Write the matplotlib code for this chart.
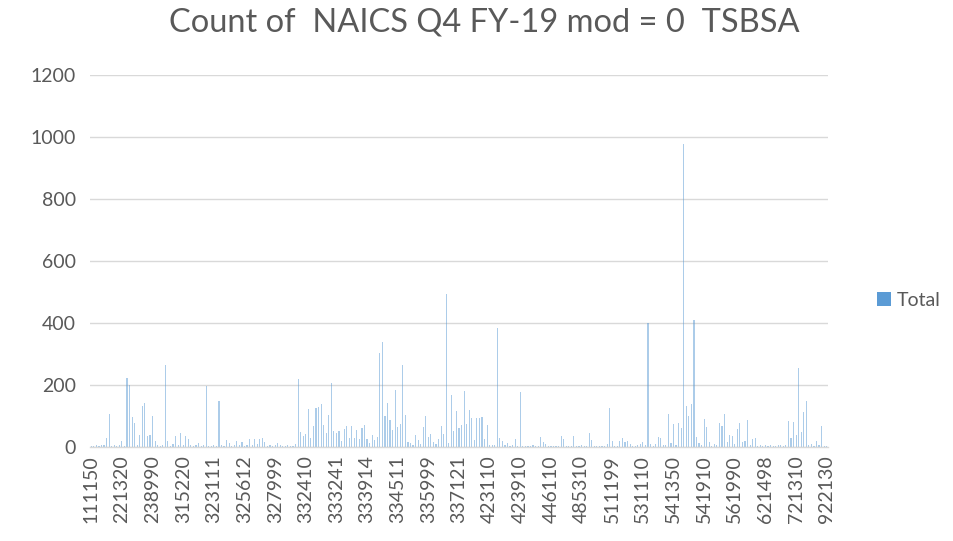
import matplotlib
matplotlib.use("Agg")
import matplotlib.pyplot as plt
from matplotlib.patches import Patch

title = "Count of  NAICS Q4 FY-19 mod = 0  TSBSA"
series_name = "Total"

tick_labels = ["111150", "221320", "238990", "315220", "323111", "325612", "327999",
               "332410", "333241", "333914", "334511", "335999", "337121", "423110",
               "423910", "446110", "485310", "511199", "531110", "541350", "541910",
               "561990", "621498", "721310", "922130"]

values = [
    3, 2, 5, 2, 8, 5, 28, 106, 4, 8,
    3, 6, 19, 4, 224, 200, 96, 76, 6, 39,
    132, 143, 35, 39, 100, 20, 5, 3, 6, 265,
    19, 4, 10, 35, 6, 44, 5, 35, 25, 8,
    4, 6, 12, 3, 5, 198, 4, 2, 5, 3,
    150, 6, 3, 22, 12, 4, 7, 19, 5, 15,
    4, 8, 25, 6, 25, 9, 26, 28, 15, 4,
    6, 3, 5, 14, 8, 4, 3, 6, 2, 4,
    10, 218, 47, 35, 41, 122, 30, 68, 127, 128,
    139, 71, 44, 103, 207, 53, 44, 52, 20, 57,
    68, 28, 68, 28, 55, 25, 60, 71, 26, 14,
    38, 22, 31, 302, 340, 100, 143, 87, 55, 184,
    63, 74, 265, 103, 15, 12, 8, 39, 22, 10,
    63, 100, 33, 41, 17, 9, 25, 69, 41, 495,
    14, 168, 53, 116, 60, 71, 181, 74, 119, 92,
    22, 92, 92, 96, 25, 71, 8, 5, 6, 385,
    28, 20, 8, 12, 4, 6, 25, 3, 178, 4,
    2, 3, 4, 5, 2, 3, 31, 17, 10, 2,
    3, 2, 4, 3, 35, 25, 2, 3, 4, 37,
    3, 2, 6, 3, 2, 44, 22, 3, 2, 4,
    3, 2, 10, 127, 19, 4, 3, 19, 30, 17,
    19, 10, 4, 3, 5, 10, 17, 6, 400, 10,
    4, 10, 31, 28, 5, 8, 105, 12, 74, 6,
    76, 60, 978, 132, 100, 139, 410, 31, 12, 5,
    89, 66, 17, 4, 10, 5, 78, 68, 106, 17,
    39, 36, 10, 57, 76, 17, 20, 87, 6, 25,
    28, 4, 6, 3, 5, 2, 6, 3, 4, 6,
    6, 3, 5, 84, 28, 82, 39, 254, 49, 114,
    148, 6, 10, 4, 19, 5, 68, 3, 2,
]
label_step = 12

plt.rcParams['font.family'] = ['Lato', 'DejaVu Sans']
text_color = '#595959'
bar_color = '#5B9BD5'

fig = plt.figure(figsize=(9.54, 5.41), dpi=100)
ax = fig.add_axes([90/954, 1-447/541, (828-90)/954, (447-75)/541])

x = list(range(len(values)))
ax.bar(x, values, width=0.45, color=bar_color, alpha=0.5, linewidth=0)

ax.set_xlim(-0.5, len(values) - 0.5)
ax.set_ylim(0, 1200)
ax.set_yticks(range(0, 1201, 200))
ax.yaxis.grid(True, color='#D9D9D9', linewidth=1)
ax.set_axisbelow(True)
for s in ['top', 'right', 'left']:
    ax.spines[s].set_visible(False)
ax.spines['bottom'].set_color('#D9D9D9')
ax.spines['bottom'].set_linewidth(1)

ax.set_xticks(list(range(0, len(values), label_step)))
ax.set_xticklabels(tick_labels, rotation=90, fontsize=14, color=text_color)
ax.tick_params(axis='x', length=0, pad=6)
ax.tick_params(axis='y', length=0, labelsize=14, labelcolor=text_color, pad=10)

fig.text(484/954, 1-22/541, title, ha='center', va='center', fontsize=23.5, color=text_color)

fig.legend(handles=[Patch(facecolor=bar_color, edgecolor='none', label=series_name)],
           loc='center left', bbox_to_anchor=(860/954, 1-300/541), frameon=False,
           fontsize=14, labelcolor=text_color, handlelength=0.7, handleheight=0.7,
           handletextpad=0.3)

fig.savefig('out.png', dpi=100)
